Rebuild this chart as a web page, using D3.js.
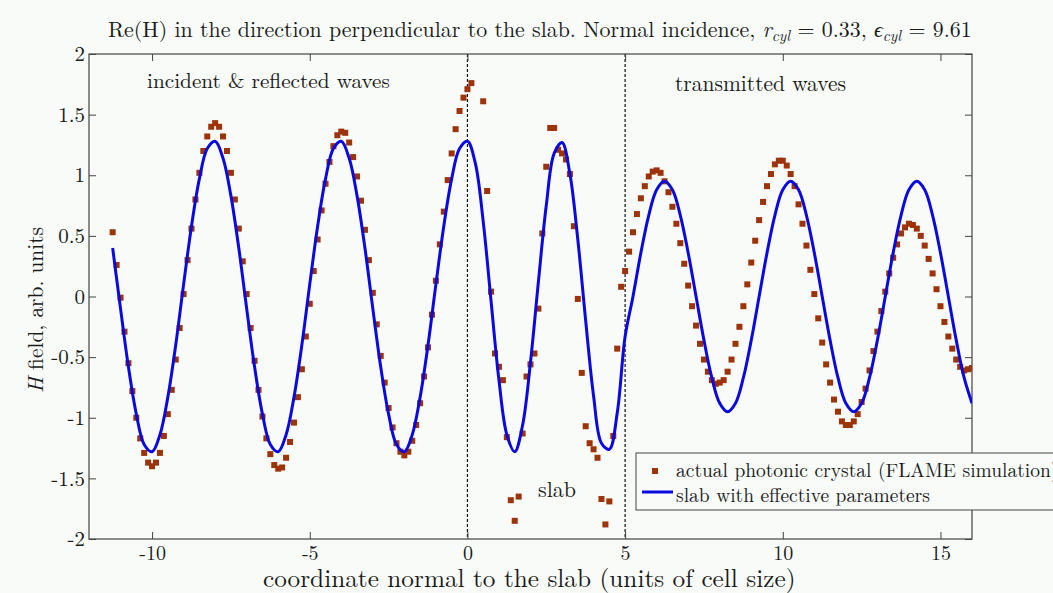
<!DOCTYPE html>
<html>
<head>
<meta charset="utf-8">
<script src="https://cdn.jsdelivr.net/npm/d3@7"></script>
<style>
  html, body { margin: 0; padding: 0; background: #f8fbf8; }
  svg { display: block; }
</style>
</head>
<body>
<svg id="chart" width="1053" height="593"></svg>
<script>
// FLAME simulation of the photonic crystal: sample positions (cell units) and Re(H)
const crystalX = [
  -11.25,-11.125,-11,-10.875,-10.75,-10.625,-10.5,-10.375,-10.25,-10.125,
  -10,-9.875,-9.75,-9.625,-9.5,-9.375,-9.25,-9.125,-9,-8.875,
  -8.75,-8.625,-8.5,-8.375,-8.25,-8.125,-8,-7.875,-7.75,-7.625,
  -7.5,-7.375,-7.25,-7.125,-7,-6.875,-6.75,-6.625,-6.5,-6.375,
  -6.25,-6.125,-6,-5.875,-5.75,-5.625,-5.5,-5.375,-5.25,-5.125,
  -5,-4.875,-4.75,-4.625,-4.5,-4.375,-4.25,-4.125,-4,-3.875,
  -3.75,-3.625,-3.5,-3.375,-3.25,-3.125,-3,-2.875,-2.75,-2.625,
  -2.5,-2.375,-2.25,-2.125,-2,-1.875,-1.75,-1.625,-1.5,-1.375,
  -1.25,-1.125,-1,-0.875,-0.75,-0.625,-0.5,-0.375,-0.25,-0.125,
  0,0.125,
  0.5,0.625,0.75,0.875,1,1.125,1.25,1.375,1.5,1.625,
  1.75,1.875,2,2.125,2.25,2.375,2.5,2.625,2.75,2.875,
  3,3.125,3.25,3.375,3.5,3.625,3.75,3.875,4,4.125,
  4.25,4.375,4.5,4.625,
  4.75,4.875,5,5.125,5.25,5.375,5.5,5.625,5.75,5.875,
  6,6.125,6.25,6.375,6.5,6.625,6.75,6.875,7,7.125,
  7.25,7.375,7.5,7.625,7.75,7.875,8,8.125,8.25,8.375,
  8.5,8.625,8.75,8.875,9,9.125,9.25,9.375,9.5,9.625,
  9.75,9.875,10,10.125,10.25,10.375,10.5,10.625,10.75,10.875,
  11,11.125,11.25,11.375,11.5,11.625,11.75,11.875,12,12.125,
  12.25,12.375,12.5,12.625,12.75,12.875,13,13.125,13.25,13.375,
  13.5,13.625,13.75,13.875,14,14.125,14.25,14.375,14.5,14.625,
  14.75,14.875,15,15.125,15.25,15.375,15.5,15.625,15.75,15.875,
  16
];
const crystalH = [
  0.53,0.26,-0.01,-0.29,-0.55,-0.78,-1.00,-1.17,-1.29,-1.37,
  -1.40,-1.37,-1.29,-1.15,-0.97,-0.77,-0.52,-0.26,0.02,0.30,
  0.56,0.80,1.02,1.20,1.32,1.40,1.43,1.40,1.32,1.20,
  1.02,0.80,0.56,0.29,0.02,-0.26,-0.53,-0.77,-0.99,-1.17,
  -1.30,-1.39,-1.42,-1.41,-1.33,-1.20,-1.04,-0.83,-0.60,-0.33,
  -0.06,0.21,0.47,0.71,0.93,1.11,1.24,1.33,1.36,1.35,
  1.27,1.15,0.99,0.79,0.55,0.30,0.03,-0.23,-0.49,-0.71,
  -0.92,-1.08,-1.21,-1.28,-1.31,-1.28,-1.19,-1.06,-0.88,-0.66,
  -0.42,-0.15,0.13,0.43,0.70,0.96,1.18,1.38,1.53,1.64,
  1.71,1.76,
  1.61,0.87,0.04,-0.47,-0.58,-0.69,-1.16,-1.68,-1.85,-1.65,
  -1.13,-0.66,-0.56,-0.47,-0.10,0.52,1.07,1.39,1.39,1.21,
  1.18,1.13,1.01,0.58,-0.02,-0.63,-1.07,-1.21,-1.26,-1.33,
  -1.67,-1.88,-1.69,-1.15,
  -0.43,0.08,0.21,0.37,0.53,0.68,0.81,0.91,0.99,1.03,
  1.04,1.02,0.95,0.86,0.74,0.60,0.44,0.27,0.09,-0.08,
  -0.24,-0.39,-0.52,-0.62,-0.69,-0.72,-0.71,-0.69,-0.62,-0.52,
  -0.39,-0.25,-0.08,0.10,0.28,0.46,0.63,0.78,0.91,1.01,
  1.09,1.12,1.12,1.08,1.01,0.91,0.76,0.60,0.42,0.22,
  0.02,-0.18,-0.38,-0.56,-0.71,-0.85,-0.95,-1.03,-1.06,-1.06,
  -1.03,-0.97,-0.87,-0.76,-0.61,-0.45,-0.29,-0.12,0.04,0.19,
  0.32,0.43,0.52,0.57,0.60,0.59,0.56,0.50,0.42,0.31,
  0.19,0.06,-0.08,-0.21,-0.33,-0.43,-0.52,-0.58,-0.61,-0.60,
  -0.59
];

// Homogeneous slab with effective parameters: sampled Re(H)
const slabX = [
  -11.25,-11,-10.75,-10.5,-10.25,-10,-9.75,-9.5,-9.25,-9,
  -8.75,-8.5,-8.25,-8,-7.75,-7.5,-7.25,-7,-6.75,-6.5,
  -6.25,-6,-5.75,-5.5,-5.25,-5,-4.75,-4.5,-4.25,-4,
  -3.75,-3.5,-3.25,-3,-2.75,-2.5,-2.25,-2,-1.75,-1.5,
  -1.25,-1,-0.75,-0.5,-0.25,0,
  0.25,0.5,0.75,1,1.25,1.5,1.75,2,2.25,2.5,
  2.75,3,3.25,3.5,3.75,4,4.25,4.5,4.75,5,
  5.25,5.5,5.75,6,6.25,6.5,6.75,7,7.25,7.5,
  7.75,8,8.25,8.5,8.75,9,9.25,9.5,9.75,10,
  10.25,10.5,10.75,11,11.25,11.5,11.75,12,12.25,12.5,
  12.75,13,13.25,13.5,13.75,14,14.25,14.5,14.75,15,
  15.25,15.5,15.75,16
];
const slabH = [
  0.40,-0.10,-0.58,-0.97,-1.22,-1.28,-1.14,-0.83,-0.40,0.10,
  0.58,0.97,1.22,1.28,1.14,0.83,0.40,-0.10,-0.58,-0.97,
  -1.22,-1.28,-1.14,-0.83,-0.40,0.10,0.58,0.97,1.22,1.28,
  1.14,0.83,0.40,-0.10,-0.58,-0.97,-1.22,-1.28,-1.14,-0.83,
  -0.40,0.10,0.58,0.97,1.22,1.28,
  1.10,0.62,-0.04,-0.69,-1.14,-1.28,-1.06,-0.54,0.12,0.75,
  1.18,1.27,1.01,0.47,-0.20,-0.82,-1.21,-1.26,-0.96,-0.33,
  0.00,0.36,0.67,0.88,0.95,0.88,0.67,0.36,0.00,-0.36,
  -0.67,-0.88,-0.95,-0.88,-0.67,-0.36,0.00,0.36,0.67,0.88,
  0.95,0.88,0.67,0.36,0.00,-0.36,-0.67,-0.88,-0.95,-0.88,
  -0.67,-0.36,0.00,0.36,0.67,0.88,0.95,0.88,0.67,0.36,
  0.00,-0.36,-0.67,-0.88
];

// Axis ticks and slab boundaries
const xTicks = [-10, -5, 0, 5, 10, 15];
const xTickLabels = ["-10", "-5", "0", "5", "10", "15"];
const yTicks = [-2, -1.5, -1, -0.5, 0, 0.5, 1, 1.5, 2];
const yTickLabels = ["-2", "-1.5", "-1", "-0.5", "0", "0.5", "1", "1.5", "2"];
const slabEdges = [0, 5];

const FONT = '"Latin Modern Roman", "Liberation Serif", serif';
const crystalColor = "#9c3309";
const slabColor = "#0a0ae0";
const frameColor = "#444";
const textColor = "#1a1a1a";
const bg = "#f8fbf8";

const svg = d3.select("#chart");
const plot = { left: 89, right: 972, top: 54, bottom: 539 };

const x = d3.scaleLinear().domain([-12, 16]).range([plot.left, plot.right]);
const y = d3.scaleLinear().domain([-2, 2]).range([plot.bottom, plot.top]);

// Text helper: scale the font so the string spans the given width
function addText(parent, px, py, width, size) {
  return parent.append("text")
    .attr("x", px).attr("y", py)
    .style("font-family", FONT).style("font-size", size + "px")
    .attr("fill", textColor)
    .call(t => t.datum({ width, size }));
}
function fit(t) {
  const { width, size } = t.datum();
  const w = t.node().getComputedTextLength();
  if (w > 0) t.style("font-size", (size * width / w) + "px");
  return t;
}

// Title
const title = addText(svg, 108, 37, 864, 20);
title.append("tspan").text("Re(H) in the direction perpendicular to the slab. Normal incidence, ");
title.append("tspan").style("font-style", "italic").text("r");
title.append("tspan").style("font-style", "italic").style("font-size", "0.7em").attr("dy", "0.25em").text("cyl");
title.append("tspan").attr("dy", "-0.175em").text(" = 0.33, ");
title.append("tspan").style("font-style", "italic").text("ϵ");
title.append("tspan").style("font-style", "italic").style("font-size", "0.7em").attr("dy", "0.25em").text("cyl");
title.append("tspan").attr("dy", "-0.175em").text(" = 9.61");
fit(title);

// Clip for marks
svg.append("defs").append("clipPath").attr("id", "plot-clip")
  .append("rect")
  .attr("x", plot.left).attr("y", plot.top)
  .attr("width", plot.right - plot.left).attr("height", plot.bottom - plot.top);

// Slab boundaries
svg.append("g").selectAll("line").data(slabEdges).enter().append("line")
  .attr("x1", d => x(d)).attr("x2", d => x(d))
  .attr("y1", plot.top).attr("y2", plot.bottom)
  .attr("stroke", "#111").attr("stroke-width", 1.2)
  .attr("stroke-dasharray", "3,2");

// Axes (ticks point inward)
const bottomAxis = d3.axisBottom(x).tickValues(xTicks).tickSizeInner(-7).tickSizeOuter(0).tickPadding(7)
  .tickFormat((d, i) => xTickLabels[i]);
const topAxis = d3.axisTop(x).tickValues(xTicks).tickSizeInner(-7).tickSizeOuter(0).tickFormat("");
const leftAxis = d3.axisLeft(y).tickValues(yTicks).tickSizeInner(-7).tickSizeOuter(0).tickPadding(4)
  .tickFormat((d, i) => yTickLabels[i]);
const rightAxis = d3.axisRight(y).tickValues(yTicks).tickSizeInner(-7).tickSizeOuter(0).tickFormat("");

function styleAxis(sel, size) {
  sel.select(".domain").remove();
  sel.selectAll(".tick line").attr("stroke", frameColor).attr("stroke-width", 1);
  sel.selectAll(".tick text")
    .style("font-family", FONT)
    .style("font-size", size + "px").attr("fill", textColor);
}
svg.append("g").attr("transform", `translate(0,${plot.bottom})`).call(bottomAxis).call(styleAxis, 20);
svg.append("g").attr("transform", `translate(0,${plot.top})`).call(topAxis).call(styleAxis, 20);
svg.append("g").attr("transform", `translate(${plot.left},0)`).call(leftAxis).call(styleAxis, 21);
svg.append("g").attr("transform", `translate(${plot.right},0)`).call(rightAxis).call(styleAxis, 20);

// Frame
svg.append("rect")
  .attr("x", plot.left).attr("y", plot.top)
  .attr("width", plot.right - plot.left).attr("height", plot.bottom - plot.top)
  .attr("fill", "none").attr("stroke", frameColor).attr("stroke-width", 1.2);

// Simulation points
const sq = 6;
const marks = svg.append("g").attr("clip-path", "url(#plot-clip)");
marks.selectAll("rect").data(crystalX.map((d, i) => [d, crystalH[i]])).enter().append("rect")
  .attr("x", d => x(d[0]) - sq / 2).attr("y", d => y(d[1]) - sq / 2)
  .attr("width", sq).attr("height", sq)
  .attr("fill", crystalColor);

// Effective-slab curve
const line = d3.line().x(d => x(d[0])).y(d => y(d[1])).curve(d3.curveCatmullRom.alpha(0.5));
marks.append("path")
  .datum(slabX.map((d, i) => [d, slabH[i]]))
  .attr("d", line)
  .attr("fill", "none").attr("stroke", slabColor).attr("stroke-width", 3)
  .attr("stroke-linejoin", "round");

// Region annotations
fit(addText(svg, 147, 88, 243, 20).text("incident & reflected waves"));
fit(addText(svg, 675, 91, 171, 20).text("transmitted waves"));
fit(addText(svg, 538, 497, 38, 20).text("slab"));

// Axis labels
fit(addText(svg, 263, 587, 533, 24).text("coordinate normal to the slab (units of cell size)"));
const yl = addText(svg, 0, 0, 166, 24)
  .attr("transform", "translate(43,310) rotate(-90)")
  .attr("text-anchor", "middle");
yl.append("tspan").style("font-style", "italic").text("H");
yl.append("tspan").text(" field, arb. units");
fit(yl);

// Legend (its right side runs past the figure edge)
const lg = svg.append("g").attr("transform", "translate(636,453)");
lg.append("rect").attr("x", 0).attr("y", 0).attr("width", 440).attr("height", 57)
  .attr("fill", bg).attr("stroke", frameColor).attr("stroke-width", 1);
lg.append("rect").attr("x", 16).attr("y", 15).attr("width", sq).attr("height", sq).attr("fill", crystalColor);
const lt1 = fit(addText(lg, 40, 24, 375, 20).text("actual photonic crystal (FLAME simulation"));
lt1.append("tspan").text(")");
addText(lg, 40, 49, 0, 20).style("font-size", lt1.style("font-size"))
  .text("slab with effective parameters");
lg.append("line").attr("x1", 6).attr("x2", 37).attr("y1", 39).attr("y2", 39)
  .attr("stroke", slabColor).attr("stroke-width", 3);
</script>
</body>
</html>
